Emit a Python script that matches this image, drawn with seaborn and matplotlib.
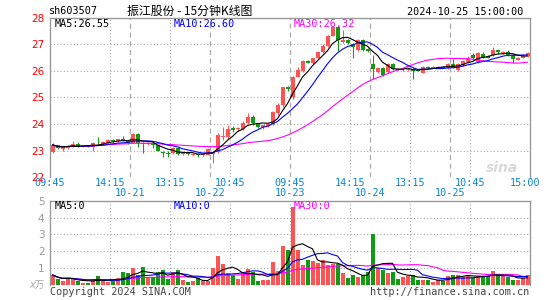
import numpy as np
import pandas as pd
import matplotlib
matplotlib.use("Agg")
import matplotlib.pyplot as plt
import seaborn as sns

# ---------------- data ----------------
opens = [22.95,23.2,23.05,23.1,23.15,23.25,23.15,23.2,23.15,23.3,23.25,23.3,23.42,23.35,23.43,23.38,
 23.3,23.62,23.28,23.25,23.3,23.2,22.95,22.92,22.9,23.1,22.88,22.9,22.85,22.86,22.83,22.85,
 22.88,22.95,23.5,23.5,23.85,23.8,23.82,24.05,24.25,24.02,23.88,23.92,24.0,24.4,24.7,25.38,
 25.0,25.78,26.0,26.38,26.28,26.48,26.72,26.92,27.32,27.65,27.1,27.15,27.02,26.8,27.15,26.82,
 26.25,25.95,26.12,25.95,26.25,26.08,26.02,26.03,26.08,26.02,25.92,26.15,26.12,26.12,26.16,26.12,
 26.25,26.05,26.22,26.35,26.6,26.35,26.65,26.55,26.58,26.78,26.68,26.72,26.6,26.42,26.5,26.55]
highs = [23.27,23.22,23.15,23.22,23.38,23.32,23.2,23.22,23.32,23.5,23.35,23.45,23.45,23.45,23.55,23.4,
 23.65,23.65,23.32,23.32,23.38,23.22,23.0,23.0,23.12,23.12,22.95,22.93,22.9,22.88,22.9,23.1,
 22.98,23.65,23.9,23.95,23.92,23.9,24.1,24.4,24.35,24.05,23.98,24.05,24.5,24.8,25.4,25.42,
 25.8,26.15,26.4,26.42,26.5,26.75,27.0,27.35,27.68,27.68,27.55,27.18,27.05,27.2,27.18,26.85,
 26.6,26.15,26.15,26.28,26.28,26.12,26.1,26.12,26.1,26.08,26.2,26.18,26.18,26.18,26.2,26.3,
 26.45,26.3,26.4,26.55,26.68,26.72,26.7,26.58,26.88,26.82,26.75,26.78,26.62,26.52,26.58,26.72]
lows = [22.9,23.05,23.0,23.08,23.12,23.12,23.12,23.12,22.98,23.25,23.22,23.28,23.3,23.32,23.35,23.25,
 23.28,23.12,22.92,23.22,23.1,22.98,22.75,22.77,22.88,22.85,22.82,22.83,22.8,22.78,22.8,22.82,
 22.55,22.92,23.4,23.45,23.72,23.75,23.78,24.0,23.95,23.85,23.8,23.88,23.98,24.35,24.65,25.25,
 24.95,25.75,25.95,26.28,26.25,26.45,26.68,26.9,27.3,26.75,27.05,27.0,26.5,26.75,26.75,26.7,
 25.7,25.9,25.8,25.92,26.05,26.02,25.98,26.0,25.7,25.98,25.9,26.1,26.1,26.1,26.1,26.08,
 26.1,26.0,26.2,26.3,26.45,26.3,26.48,26.48,26.55,26.65,26.65,26.55,26.3,26.4,26.48,26.52]
closes = [23.22,23.1,23.12,23.18,23.25,23.15,23.18,23.15,23.3,23.27,23.32,23.42,23.35,23.43,23.38,23.3,
 23.62,23.28,23.25,23.3,23.22,23.0,22.9,22.88,23.1,22.88,22.92,22.86,22.88,22.82,22.88,23.05,
 22.95,23.6,23.55,23.8,23.78,23.85,24.05,24.25,24.05,23.9,23.95,24.0,24.45,24.72,25.38,25.3,
 25.78,26.02,26.38,26.3,26.48,26.72,26.95,27.32,27.65,27.15,27.15,27.03,26.9,27.15,26.8,26.75,
 26.08,26.12,25.85,26.25,26.08,26.05,26.05,26.08,25.98,26.0,26.15,26.12,26.16,26.16,26.12,26.25,
 26.15,26.25,26.37,26.5,26.48,26.68,26.5,26.5,26.78,26.7,26.72,26.6,26.43,26.5,26.55,26.68]
volumes = [0.6,0.35,0.25,0.42,0.35,0.22,0.15,0.15,0.35,0.55,0.22,0.2,0.25,0.4,0.75,0.7,
 1.0,0.6,1.1,0.45,0.5,0.75,0.9,0.35,0.75,0.9,0.3,0.2,0.25,0.4,0.25,0.25,
 1.0,1.75,1.25,0.72,0.6,0.35,0.75,0.95,0.8,0.25,0.3,0.3,1.38,0.82,2.31,2.08,
 4.6,2.08,1.17,1.5,1.4,1.3,1.5,1.17,1.26,1.26,0.72,0.43,0.62,0.49,0.62,0.76,
 3.05,1.0,0.91,0.72,0.78,0.39,0.49,0.56,0.62,0.33,0.33,0.33,0.17,0.33,0.27,0.56,
 0.62,0.62,0.49,0.56,0.43,0.56,0.56,0.52,0.85,0.52,0.52,0.49,0.33,0.29,0.43,0.62]

time_labels = ["09:45", "14:15", "13:15", "10:45", "09:45", "14:15", "13:15", "10:45", "15:00"]
date_labels = ["10-21", "10-22", "10-23", "10-24", "10-25"]
price_ticks = [22, 23, 24, 25, 26, 27, 28]
vol_ticks = [1, 2, 3, 4, 5]

title_code = "sh603507"
title_name = "振江股份 - 15分钟K线图"
stamp = "2024-10-25 15:00:00"

# ---------------- style ----------------
sns.set_theme(style="white")
plt.rcParams["font.family"] = ["DejaVu Sans", "Noto Sans CJK SC"]

RED = "#ff5252"
GREEN = "#129a12"
GRID = "#aaaaaa"
FRAME = "#999999"
MONO = ["DejaVu Sans Mono", "Noto Sans CJK SC"]

W, H = 545, 300
fig = plt.figure(figsize=(W / 100, H / 100), dpi=100)


def rect(l, t, r, b):
    return [l / W, 1 - b / H, (r - l) / W, (b - t) / H]


def T(px, py, s, **kw):
    kw.setdefault("va", "center")
    kw.setdefault("ha", "left")
    fig.text(px / W, 1 - py / H, s, **kw)


n = len(closes)
x = np.arange(n)
o = np.array(opens); c = np.array(closes); hi = np.array(highs); lo = np.array(lows)
v = np.array(volumes)
colors = np.where(c >= o, RED, GREEN)

df = pd.DataFrame({"i": x, "close": c, "vol": v})
for k in (5, 10, 30):
    df[f"MA{k}"] = df["close"].rolling(k, min_periods=1).mean()
    df[f"VMA{k}"] = df["vol"].rolling(k, min_periods=1).mean()

# ---------------- price panel ----------------
ax = fig.add_axes(rect(50, 17.6, 530, 177.3))
ax.set_xlim(-0.5, n - 0.5)
ax.set_ylim(22, 28)
for yv in [23, 24, 25, 26, 27]:
    ax.axhline(yv, color=GRID, lw=0.8, ls=(0, (1, 2)), zorder=0)
for k in range(1, 8):
    xv = -0.5 + 12 * k
    if (12 * k) % 16 != 0:
        ax.axvline(xv, color=GRID, lw=0.8, ls=(0, (1, 2)), zorder=0)
for k in range(1, 6):
    ax.axvline(-0.5 + 16 * k, color=GRID, lw=0.9, ls=(0, (4, 3)), zorder=0)

ax.vlines(x, lo, hi, colors=colors, lw=0.75, zorder=2)
ax.bar(x, np.maximum(np.abs(c - o), 0.015), bottom=np.minimum(o, c), width=0.8,
       color=colors, lw=0, zorder=3)
sns.lineplot(data=df, x="i", y="MA30", ax=ax, color="#ff00ff", lw=0.8, zorder=4)
sns.lineplot(data=df, x="i", y="MA10", ax=ax, color="#0000ff", lw=0.8, zorder=5)
sns.lineplot(data=df, x="i", y="MA5", ax=ax, color="black", lw=0.8, zorder=6)
ax.set_xlabel(""); ax.set_ylabel("")
ax.set_xticks([])
ax.set_yticks(price_ticks)
ax.set_yticklabels([str(t) for t in price_ticks])
ax.tick_params(axis="y", length=0, pad=4, labelcolor="red", labelsize=7.5)
for s in ["left", "right", "top"]:
    ax.spines[s].set_color(FRAME); ax.spines[s].set_linewidth(1.0)
ax.spines["bottom"].set_visible(False)
ax.text(0.975, 0.06, "sina", transform=ax.transAxes, ha="right", va="center",
        fontsize=10, fontweight="bold", style="italic", color="#d9d9d9", zorder=1)

# ---------------- volume panel ----------------
vax = fig.add_axes(rect(50, 200.7, 530, 285.1))
vax.set_xlim(-0.5, n - 0.5)
vax.set_ylim(0, 5)
for yv in [1, 2, 3, 4]:
    vax.axhline(yv, color=GRID, lw=0.8, ls=(0, (1, 2)), zorder=0)
for k in range(1, 8):
    vax.axvline(-0.5 + 12 * k, color=GRID, lw=0.8, ls=(0, (1, 2)), zorder=0)
vax.bar(x, v, width=0.8, color=colors, lw=0, zorder=2)
sns.lineplot(data=df, x="i", y="VMA30", ax=vax, color="#ff00ff", lw=0.8, zorder=4)
sns.lineplot(data=df, x="i", y="VMA10", ax=vax, color="#0000ff", lw=0.8, zorder=5)
sns.lineplot(data=df, x="i", y="VMA5", ax=vax, color="black", lw=0.8, zorder=6)
vax.set_xlabel(""); vax.set_ylabel("")
vax.set_xticks([])
vax.set_yticks(vol_ticks)
vax.set_yticklabels([str(t) for t in vol_ticks])
vax.tick_params(axis="y", length=0, pad=4, labelcolor="#999999", labelsize=7.5)
for s in ["left", "right", "top"]:
    vax.spines[s].set_color(FRAME); vax.spines[s].set_linewidth(1.0)
vax.spines["bottom"].set_visible(False)

# ---------------- texts ----------------
T(49, 11, title_code, family=MONO, fontsize=7.3, color="black")
T(190, 11, title_name, ha="center", family=["Noto Sans CJK SC", "DejaVu Sans"],
  fontsize=8.6, color="black")
T(523, 12, stamp, ha="right", family=MONO, fontsize=7.3, color="black")

T(55, 24, "MA5:%.2f" % df["MA5"].iloc[-1], family=MONO, fontsize=7.3, color="black")
T(174, 24, "MA10:%.2f" % df["MA10"].iloc[-1], family=MONO, fontsize=7.3, color="#0000ff")
T(294, 24, "MA30:%.2f" % df["MA30"].iloc[-1], family=MONO, fontsize=7.3, color="#ff00ff")

T(55, 206, "MA5:0", family=MONO, fontsize=7.3, color="black")
T(174, 206, "MA10:0", family=MONO, fontsize=7.3, color="#0000ff")
T(294, 206, "MA30:0", family=MONO, fontsize=7.3, color="#ff00ff")

time_px = [50, 110, 170, 230, 290, 350, 410, 470, 525]
for px, s in zip(time_px, time_labels):
    T(px, 183.5, s, ha="center", family=MONO, fontsize=7.3, color="#0a84d6")
date_px = [130, 210, 290, 370, 450]
for px, s in zip(date_px, date_labels):
    T(px, 192.5, s, ha="center", family=MONO, fontsize=7.3, color="#0a84d6")

T(45, 285, "x万", ha="right", family=["DejaVu Sans", "Noto Sans CJK SC"], fontsize=7,
  color="#aaaaaa", style="italic")
T(50, 292, "Copyright 2024 SINA.COM", family=MONO, fontsize=7.3, color="#444444")
T(529, 292, "http://finance.sina.com.cn", ha="right", family=MONO, fontsize=7.3,
  color="#444444")

fig.savefig("out.png", dpi=100, facecolor="white")
